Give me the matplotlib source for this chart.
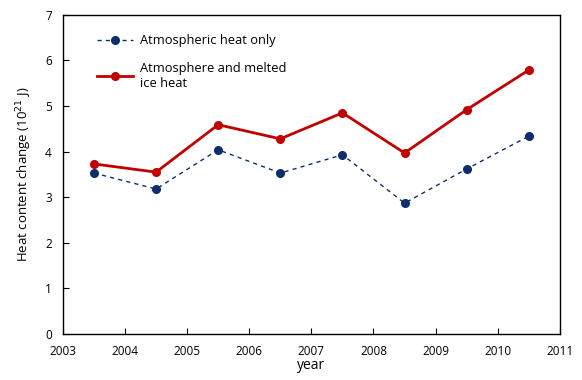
import numpy as np
import matplotlib
matplotlib.use("Agg")
import matplotlib.pyplot as plt

years = [2003.5, 2004.5, 2005.5, 2006.5, 2007.5, 2008.5, 2009.5, 2010.5]
atmos_only = [3.53, 3.18, 4.04, 3.53, 3.93, 2.87, 3.62, 4.34]
atmos_ice = [3.73, 3.55, 4.59, 4.28, 4.85, 3.97, 4.92, 5.79]
xticks = list(range(2003, 2012))
yticks = list(range(0, 8))

plt.rcParams['font.family'] = ['Open Sans', 'DejaVu Sans']

fig = plt.figure(figsize=(5.82, 3.80), dpi=100)
ax = fig.add_axes([0.108, 0.121, 0.854, 0.840])

ax.plot(years, atmos_only, color="#0f2d6b", linestyle=(0, (3, 3)), linewidth=1,
        marker="o", markersize=5.5, label="Atmospheric heat only")
ax.plot(years, atmos_ice, color="#c00000", linewidth=2,
        marker="o", markersize=5.5, label="Atmosphere and melted\nice heat")

ax.set_xlim(2003, 2011)
ax.set_ylim(0, 7)
ax.set_xticks(xticks)
ax.set_yticks(yticks)
ax.tick_params(direction="in", labelsize=8.5, length=4, pad=8)
ax.set_xlabel("year", fontsize=10, labelpad=0)
ax.set_ylabel("Heat content change (10$^{21}$ J)", fontsize=9.5, labelpad=8)
for s in ax.spines.values():
    s.set_linewidth(1)

ax.legend(loc="upper left", bbox_to_anchor=(0.045, 0.975), frameon=False,
          fontsize=9.3, handlelength=2.8, labelspacing=1.1, handletextpad=0.55)

fig.savefig("out.png", dpi=100)
